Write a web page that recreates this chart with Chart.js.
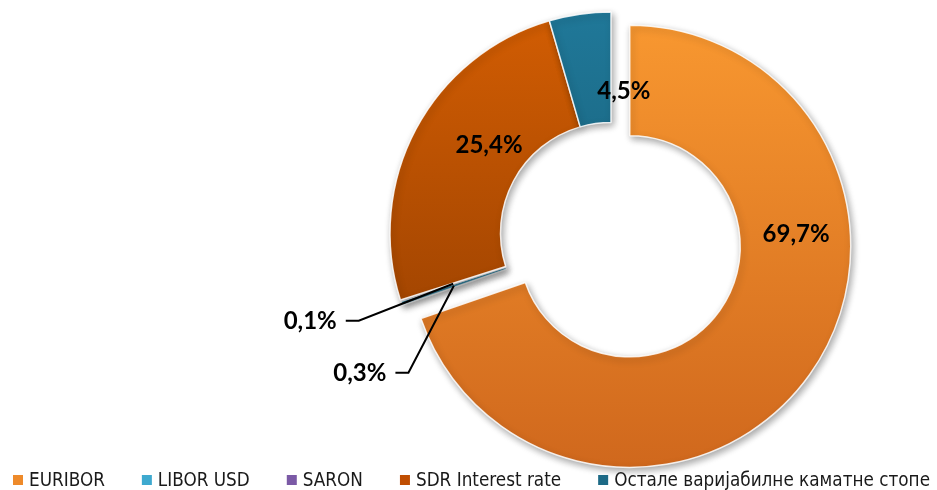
<!DOCTYPE html>
<html>
<head>
<meta charset="utf-8">
<script src="https://cdn.jsdelivr.net/npm/chart.js@4/dist/chart.umd.min.js"></script>
<style>
  html, body { margin: 0; padding: 0; background: #fff; }
  canvas { display: block; }
</style>
</head>
<body>
<canvas id="rates" width="937" height="490"></canvas>
<script>
const LABELS  = ['EURIBOR', 'LIBOR USD', 'SARON', 'SDR Interest rate', 'Остале варијабилне каматне стопе'];
const SHARES  = [69.7, 0.3, 0.1, 25.4, 4.5];
const TOP_COL = ['#FA9A31', '#4FB3D6', '#8064A2', '#D45E03', '#20799A'];
const BOT_COL = ['#D0681D', '#3A9CC0', '#6E5094', '#8A3900', '#135065'];
const KEY_COL = ['#EE8A2A', '#3EA9CF', '#7B5AA6', '#C04E02', '#1D6A86'];

// where each percentage sits: t = fraction along the slice, rf = fraction across the ring,
// leader = text offset from the anchor when the slice is too thin to hold it
const PLACE = [
  { t: 0.342, rf: 0.51 },
  { t: 0.5, rf: 0.5, leader: { dx: -94, dy: 87 } },
  { t: 0.5, rf: 0.5, leader: { dx: -143, dy: 37 } },
  { t: 0.584, rf: 0.36 },
  { t: 1.32, rf: 0.29 },
];

const EXPLODE = 23;
const KEY_SPAN = 917;
const fmt = v => v.toFixed(1).replace('.', ',') + '%';

function sliceFill(c) {
  const i = c.dataIndex;
  const area = c.chart.chartArea;
  if (!area || i === undefined) return TOP_COL[i || 0];
  const g = c.chart.ctx.createLinearGradient(0, area.top, 0, area.bottom);
  g.addColorStop(0, TOP_COL[i]);
  g.addColorStop(1, BOT_COL[i]);
  return g;
}

// pull the first slice out of the ring by moving its centre
const explodePlugin = {
  id: 'explode',
  afterDatasetUpdate(chart, args) {
    const arc = chart.getDatasetMeta(args.index).data[0];
    const mid = (arc.startAngle + arc.endAngle) / 2;
    arc.x += Math.cos(mid) * EXPLODE;
    arc.y += Math.sin(mid) * EXPLODE;
  },
};

const shadowPlugin = {
  id: 'shadow',
  beforeDatasetDraw(chart) {
    const ctx = chart.ctx;
    ctx.save();
    ctx.shadowColor = 'rgba(0,0,0,0.35)';
    ctx.shadowBlur = 7;
    ctx.shadowOffsetX = 2;
    ctx.shadowOffsetY = 3;
  },
  afterDatasetDraw(chart) {
    chart.ctx.restore();
  },
};

const valueLabels = {
  id: 'valueLabels',
  afterDatasetsDraw(chart) {
    const ctx = chart.ctx;
    const arcs = chart.getDatasetMeta(0).data;
    ctx.save();
    ctx.font = 'bold 24px Lato, "Open Sans", sans-serif';
    ctx.fillStyle = '#000';
    ctx.strokeStyle = '#000';
    ctx.lineWidth = 2;
    ctx.textAlign = 'center';
    ctx.textBaseline = 'middle';
    arcs.forEach((arc, i) => {
      const p = PLACE[i];
      const a = arc.startAngle + p.t * (arc.endAngle - arc.startAngle);
      const r = arc.innerRadius + p.rf * (arc.outerRadius - arc.innerRadius);
      const ax = arc.x + Math.cos(a) * r;
      const ay = arc.y + Math.sin(a) * r;
      const text = fmt(SHARES[i]);
      if (!p.leader) {
        ctx.fillText(text, ax, ay);
        return;
      }
      const tx = ax + p.leader.dx;
      const ty = ay + p.leader.dy;
      const half = ctx.measureText(text).width / 2;
      ctx.fillText(text, tx, ty + 1);
      ctx.beginPath();
      ctx.moveTo(tx + half + 9, ty);
      ctx.lineTo(tx + half + 22, ty);
      ctx.lineTo(ax, ay);
      ctx.stroke();
    });
    ctx.restore();
  },
};

// legend row, squeezed horizontally to the narrow face used for the key
const keyRow = {
  id: 'keyRow',
  afterDraw(chart) {
    const ctx = chart.ctx;
    const box = 10, pad = 6, gap = 37, y = 480;
    ctx.save();
    ctx.font = '19px "DejaVu Sans Condensed", "DejaVu Sans", sans-serif';
    ctx.textBaseline = 'middle';
    const widths = LABELS.map(l => ctx.measureText(l).width);
    const textTotal = widths.reduce((s, w) => s + w, 0);
    const fixed = (box + pad) * LABELS.length + gap * (LABELS.length - 1);
    const sx = Math.min(1, (KEY_SPAN - fixed) / textTotal);
    let x = (chart.width - KEY_SPAN) / 2 + 3;
    LABELS.forEach((l, i) => {
      ctx.fillStyle = KEY_COL[i];
      ctx.fillRect(x, y - box / 2, box, box);
      ctx.save();
      ctx.translate(x + box + pad, y + 1);
      ctx.scale(sx, 1);
      ctx.fillStyle = '#1a1a1a';
      ctx.fillText(l, 0, 0);
      ctx.restore();
      x += box + pad + widths[i] * sx + gap;
    });
    ctx.restore();
  },
};

new Chart(document.getElementById('rates'), {
  type: 'doughnut',
  data: {
    labels: LABELS,
    datasets: [{
      data: SHARES,
      backgroundColor: sliceFill,
      borderColor: 'rgba(255,255,255,0.85)',
      borderWidth: 1.5,
      radius: 221,
      hoverOffset: 0,
      clip: false,
    }],
  },
  options: {
    responsive: false,
    animation: false,
    events: [],
    cutout: '50%',
    layout: { padding: { left: 378, right: 93, top: 0, bottom: 24 } },
    plugins: {
      legend: { display: false },
      tooltip: { enabled: false },
    },
  },
  plugins: [explodePlugin, shadowPlugin, valueLabels, keyRow],
});
</script>
</body>
</html>
